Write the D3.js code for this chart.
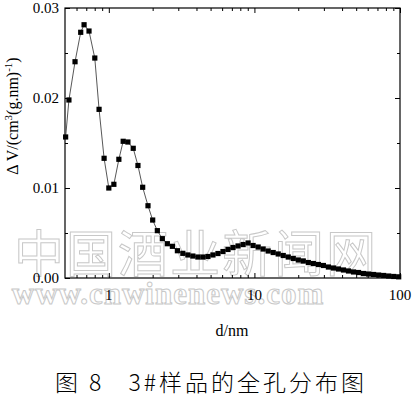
<!DOCTYPE html>
<meta charset="utf-8">
<script src="https://d3js.org/d3.v7.min.js"></script>
<title>Pore size distribution</title>
<style>
body { margin: 0; background: #fff; }
text { font-family: "Liberation Serif", "DejaVu Serif", serif; fill: #000; }
.mark { font-family: "Noto Sans CJK SC", sans-serif; fill: none; stroke: #c8c8c8; stroke-width: 1; }
</style>
<body>
<svg id="chart" width="413" height="401"></svg>
<script>

// pore diameter d (nm)
var diam = [0.505, 0.532, 0.586, 0.641, 0.676, 0.731, 0.801, 0.857, 0.928, 1.0,
  1.083, 1.172, 1.255, 1.352, 1.471, 1.585, 1.708, 1.858, 2.001, 2.154,
  2.331, 2.523, 2.733, 2.958, 3.224, 3.490, 3.778, 4.090, 4.428, 4.794,
  5.190, 5.619, 6.083, 6.586, 7.130, 7.720, 8.358, 9.049, 9.795, 10.61,
  11.48, 12.43, 13.46, 14.57, 15.78, 17.08, 18.49, 20.02, 21.67, 23.46,
  25.40, 27.50, 29.77, 32.23, 34.90, 37.78, 40.90, 44.28, 47.94, 51.90,
  56.19, 60.83, 65.86, 71.30, 77.20, 83.58, 90.49, 97.95];

// ΔV values
var dv = [0.01567, 0.01978, 0.02403, 0.0273, 0.02814, 0.02744, 0.02444, 0.01874, 0.0133, 0.0100,
  0.01041, 0.01319, 0.01519, 0.01511, 0.01441, 0.0125, 0.01008, 0.00803, 0.00644, 0.00526,
  0.00437, 0.00381, 0.00352, 0.00303, 0.00274, 0.00256, 0.00244, 0.00233, 0.00233, 0.00239,
  0.00256, 0.00272, 0.00294, 0.00317, 0.00339, 0.00356, 0.00372, 0.00389, 0.00361, 0.00344,
  0.00322, 0.00300, 0.00283, 0.00267, 0.00250, 0.00233, 0.00217, 0.00200, 0.00189, 0.00172,
  0.00161, 0.00150, 0.00139, 0.00122, 0.00111, 0.00100, 0.00089, 0.00078, 0.00067, 0.00061,
  0.00050, 0.00044, 0.00039, 0.00033, 0.00028, 0.00022, 0.00017, 0.00013];

var xTicks = [1, 10, 100];
var xMinor = [0.6, 0.7, 0.8, 0.9, 2, 3, 4, 5, 6, 7, 8, 9, 20, 30, 40, 50, 60, 70, 80, 90];
var yTicks = [0, 0.01, 0.02, 0.03];
var yMinor = [0.005, 0.015, 0.025];

var svg = d3.select("#chart"),
    m = {top: 8, right: 13, bottom: 123, left: 65},
    w = +svg.attr("width") - m.left - m.right,
    h = +svg.attr("height") - m.top - m.bottom;

var x = d3.scaleLog().domain([0.5, 100]).range([0, w]);
var y = d3.scaleLinear().domain([0, 0.03]).range([h, 0]);

// watermark
svg.append("text").attr("class", "mark")
    .attr("x", 196).attr("y", 272)
    .attr("text-anchor", "middle")
    .style("font-size", "50px")
    .style("letter-spacing", "2px")
    .text("中国酒业新闻网");
svg.append("text").attr("class", "mark")
    .attr("x", 168).attr("y", 304)
    .attr("text-anchor", "middle")
    .style("font-family", "'Liberation Serif', serif")
    .style("font-size", "31px")
    .style("font-weight", "bold")
    .style("letter-spacing", "1px")
    .text("www.cnwinenews.com");

var g = svg.append("g").attr("transform", "translate(" + m.left + "," + m.top + ")");

function ticksOn(axis, scale, vals, len) {
  return axis(scale).tickValues(vals).tickSizeInner(len).tickSizeOuter(0).tickFormat("");
}

// minor + major ticks, all inward
g.append("g").attr("transform", "translate(0," + h + ")").call(ticksOn(d3.axisTop, x, xMinor, 3));
g.append("g").attr("transform", "translate(0," + h + ")").call(ticksOn(d3.axisTop, x, xTicks, 5));
g.append("g").call(ticksOn(d3.axisBottom, x, xMinor, 3));
g.append("g").call(ticksOn(d3.axisBottom, x, xTicks, 5));
g.append("g").call(ticksOn(d3.axisRight, y, yMinor, 3));
g.append("g").call(ticksOn(d3.axisRight, y, yTicks, 5));
g.append("g").attr("transform", "translate(" + w + ",0)").call(ticksOn(d3.axisLeft, y, yMinor, 3));
g.append("g").attr("transform", "translate(" + w + ",0)").call(ticksOn(d3.axisLeft, y, yTicks, 5));
g.selectAll(".domain").remove();
g.selectAll(".tick line").attr("stroke", "#000");

// frame
g.append("rect")
    .attr("width", w).attr("height", h)
    .attr("fill", "none").attr("stroke", "#000").attr("stroke-width", 1.2);

// tick labels
g.selectAll(".xl").data(xTicks).enter().append("text")
    .attr("x", function(d) { return x(d); })
    .attr("y", h + 22)
    .attr("text-anchor", "middle")
    .style("font-size", "15px")
    .text(function(d) { return d; });

g.selectAll(".yl").data(yTicks).enter().append("text")
    .attr("x", -6)
    .attr("y", function(d) { return y(d); })
    .attr("dy", "0.35em")
    .attr("text-anchor", "end")
    .style("font-size", "15px")
    .text(function(d) { return d3.format(".2f")(d); });

// data
var pts = diam.map(function(d, i) { return {d: d, v: dv[i]}; });

g.append("path").datum(pts)
    .attr("fill", "none")
    .attr("stroke", "#444")
    .attr("stroke-width", 0.9)
    .attr("d", d3.line().x(function(p) { return x(p.d); }).y(function(p) { return y(p.v); }));

g.selectAll(".pt").data(pts).enter().append("rect")
    .attr("x", function(p) { return x(p.d) - 2.6; })
    .attr("y", function(p) { return y(p.v) - 2.6; })
    .attr("width", 5.2).attr("height", 5.2)
    .attr("fill", "#000");

// axis titles
svg.append("text")
    .attr("x", 232).attr("y", 336)
    .attr("text-anchor", "middle")
    .style("font-size", "16px")
    .text("d/nm");

var yt = svg.append("text")
    .attr("transform", "translate(18,116) rotate(-90)")
    .attr("text-anchor", "middle")
    .style("font-size", "16px");
yt.append("tspan").text("Δ  V/(cm");
yt.append("tspan").attr("dy", -6).style("font-size", "11px").text("3");
yt.append("tspan").attr("dy", 6).text("(g.nm)");
yt.append("tspan").attr("dy", -6).style("font-size", "11px").text("-1");
yt.append("tspan").attr("dy", 6).text(")");

// caption
svg.append("text")
    .attr("x", 211).attr("y", 391)
    .attr("text-anchor", "middle")
    .style("font-family", "'Noto Sans CJK SC', sans-serif")
    .style("font-weight", "300")
    .style("font-size", "23px")
    .style("letter-spacing", "3px")
    .text("图 8\u00a0\u00a0\u00a03#样品的全孔分布图");

</script>
</body>
